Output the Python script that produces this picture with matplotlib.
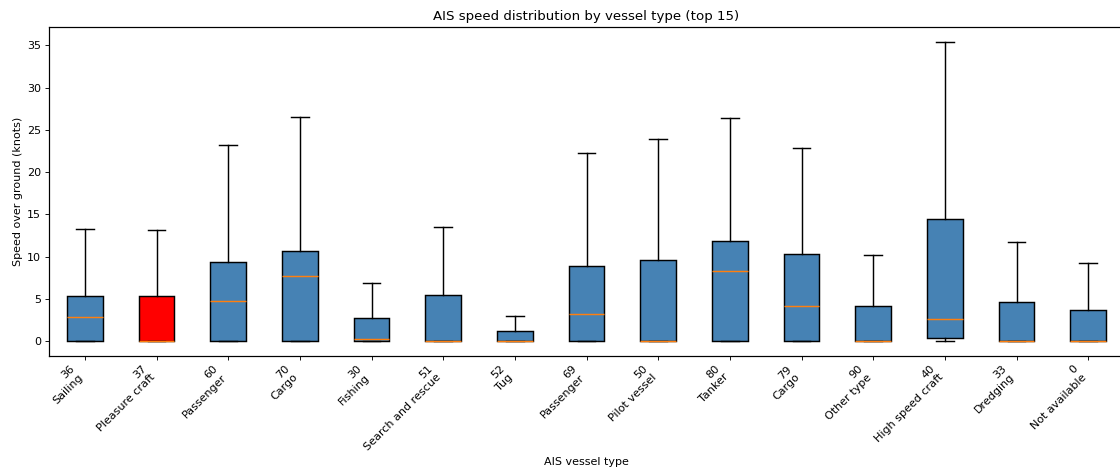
import matplotlib
matplotlib.use("Agg")
import matplotlib.pyplot as plt

codes = ["36", "37", "60", "70", "30", "51", "52", "69", "50", "80", "79", "90", "40", "33", "0"]
names = ["Sailing", "Pleasure craft", "Passenger", "Cargo", "Fishing", "Search and rescue",
         "Tug", "Passenger", "Pilot vessel", "Tanker", "Cargo", "Other type",
         "High speed craft", "Dredging", "Not available"]
whislo = [0, 0, 0, 0, 0, 0, 0, 0, 0, 0, 0, 0, 0, 0, 0]
q1 = [0, 0, 0, 0, 0, 0, 0, 0, 0, 0, 0, 0, 0.35, 0, 0]
med = [2.84, 0.05, 4.69, 7.65, 0.2, 0.05, 0.0, 3.15, 0.05, 8.3, 4.1, 0.05, 2.56, 0.05, 0.0]
q3 = [5.28, 5.28, 9.3, 10.6, 2.72, 5.4, 1.22, 8.9, 9.58, 11.9, 10.3, 4.1, 14.4, 4.65, 3.7]
whishi = [13.24, 13.2, 23.2, 26.5, 6.9, 13.48, 2.96, 22.2, 23.97, 26.4, 22.9, 10.13, 35.4, 11.67, 9.19]
highlight = "37"

stats = []
for i in range(len(codes)):
    stats.append(dict(whislo=whislo[i], q1=q1[i], med=med[i], q3=q3[i], whishi=whishi[i], fliers=[]))

fig = plt.figure(figsize=(14, 5.9375), dpi=80)
ax = fig.add_axes([49/1120, 1 - 356/475, (1124 - 49)/1120, (356 - 27)/475])
bp = ax.bxp(stats, positions=range(1, len(codes) + 1), widths=0.5, patch_artist=True,
            showfliers=False,
            boxprops=dict(linewidth=1.3),
            whiskerprops=dict(linewidth=1.3),
            capprops=dict(linewidth=1.3),
            medianprops=dict(linewidth=1.3, color="#ff7f0e"))
for c, box in zip(codes, bp["boxes"]):
    box.set_facecolor("red" if c == highlight else "steelblue")
    box.set_edgecolor("black")
for s in ax.spines.values():
    s.set_linewidth(1.1)
ax.set_xticks(range(1, len(codes) + 1))
ax.set_xticklabels([f"{c}\n{n}" for c, n in zip(codes, names)], rotation=45, ha="right")
ax.set_xlim(0.5, len(codes) + 0.5)
ax.set_title("AIS speed distribution by vessel type (top 15)")
ax.set_xlabel("AIS vessel type")
ax.set_ylabel("Speed over ground (knots)")
fig.savefig("out.png", dpi=80)
